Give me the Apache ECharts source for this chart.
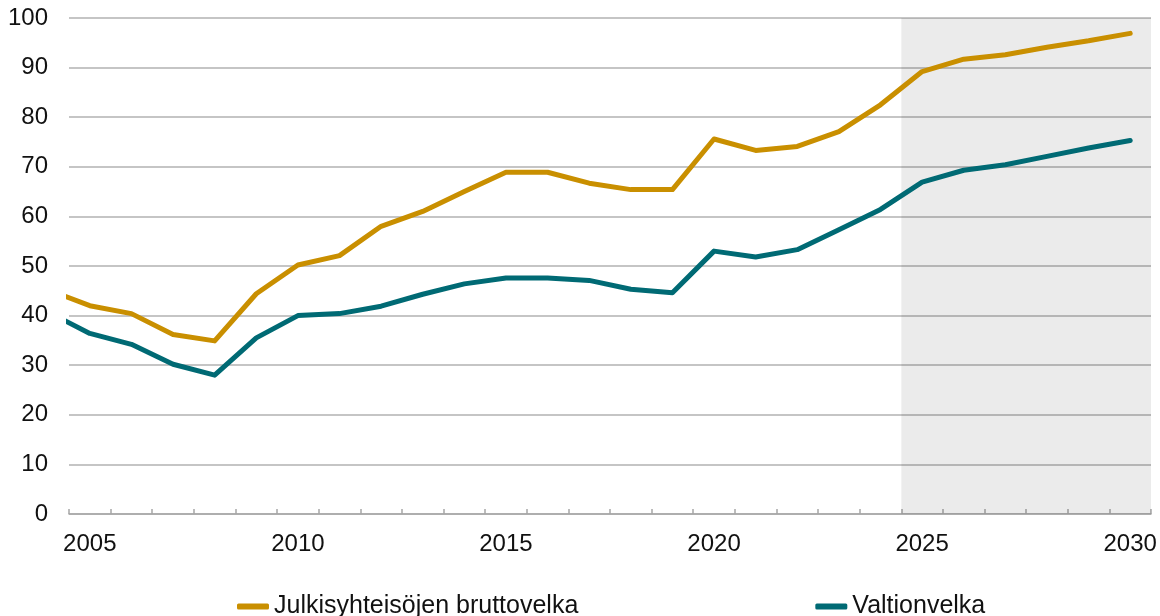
<!DOCTYPE html>
<html>
<head>
<meta charset="utf-8">
<script src="https://cdn.jsdelivr.net/npm/echarts@6/dist/echarts.min.js"></script>
<style>
    html, body {margin: 0; padding: 0; background: #fff;}
    #chart {width: 1160px; height: 616px;}
</style>
</head>
<body>
<div id="chart"></div>
<script>
    // vuodet ja velka-aineisto (% BKT:sta), 2004 vain reunaa varten
    var years = [2004, 2005, 2006, 2007, 2008, 2009, 2010, 2011, 2012, 2013, 2014, 2015, 2016, 2017,
        2018, 2019, 2020, 2021, 2022, 2023, 2024, 2025, 2026, 2027, 2028, 2029, 2030];
    var axisYears = ['2005', '2006', '2007', '2008', '2009', '2010', '2011', '2012', '2013', '2014', '2015',
        '2016', '2017', '2018', '2019', '2020', '2021', '2022', '2023', '2024', '2025', '2026', '2027',
        '2028', '2029', '2030'];
    var julkinen = [45.2, 42.0, 40.4, 36.2, 34.9, 44.4, 50.2, 52.1, 58.0, 61.0, 65.0, 68.9, 68.9, 66.7,
        65.4, 65.4, 75.6, 73.3, 74.1, 77.1, 82.5, 89.2, 91.7, 92.6, 94.1, 95.4, 96.9];
    var valtio = [40.7, 36.4, 34.2, 30.2, 28.0, 35.5, 40.0, 40.4, 41.9, 44.3, 46.4, 47.6, 47.6, 47.1,
        45.3, 44.6, 53.0, 51.8, 53.3, 57.3, 61.4, 66.9, 69.3, 70.4, 72.1, 73.8, 75.3];
    var yTicks = [0, 10, 20, 30, 40, 50, 60, 70, 80, 90, 100];
    var xMin = 2004.5;
    var forecastStart = 2024.5;
    var forecastEnd = 2030.5;

    function pairs(vals) {
        return years.map(function (y, i) { return [y, vals[i]]; });
    }

    var font = "'Liberation Sans', Arial, sans-serif";
    var chart = echarts.init(document.getElementById('chart'), null, {renderer: 'canvas'});

    var option = {
        animation: false,
        textStyle: {fontFamily: font},
        grid: {left: 69, right: 9, top: 18, bottom: 102, containLabel: false},
        legend: {
            left: 232,
            top: 589,
            itemGap: 237,
            itemWidth: 32,
            itemHeight: 6,
            icon: 'roundRect',
            textStyle: {fontFamily: font, fontSize: 25, color: '#111'},
            data: ['Julkisyhteisöjen bruttovelka', 'Valtionvelka']
        },
        xAxis: [
            {
                type: 'category',
                data: axisYears,
                boundaryGap: true,
                axisLine: {lineStyle: {color: '#A6A6A6', width: 1.5}},
                axisTick: {show: true, interval: 0, inside: true, length: 5, lineStyle: {color: '#A6A6A6', width: 1.5}},
                axisLabel: {interval: 4, margin: 18, fontSize: 24, color: '#111', fontFamily: font},
                splitLine: {show: false}
            },
            {
                type: 'value',
                min: xMin,
                max: forecastEnd,
                show: false,
                splitLine: {show: false}
            }
        ],
        yAxis: {
            type: 'value',
            min: yTicks[0],
            max: yTicks[yTicks.length - 1],
            interval: 10,
            axisLine: {show: false},
            axisTick: {show: false},
            axisLabel: {margin: 21, fontSize: 24, color: '#111', fontFamily: font},
            splitLine: {lineStyle: {color: '#B2B2B2', width: 1.5}}
        },
        series: [
            {
                name: 'Julkisyhteisöjen bruttovelka',
                type: 'line',
                xAxisIndex: 1,
                data: pairs(julkinen),
                showSymbol: false,
                clip: true,
                color: '#C98F00',
                lineStyle: {width: 5, cap: 'round', join: 'round'},
                markArea: {
                    silent: true,
                    itemStyle: {color: 'rgba(0,0,0,0.08)'},
                    data: [[{xAxis: forecastStart}, {xAxis: forecastEnd}]]
                },
                z: 3
            },
            {
                name: 'Valtionvelka',
                type: 'line',
                xAxisIndex: 1,
                data: pairs(valtio),
                showSymbol: false,
                clip: true,
                color: '#006A74',
                lineStyle: {width: 5, cap: 'round', join: 'round'},
                z: 3
            }
        ]
    };
    chart.setOption(option);
</script>
</body>
</html>
